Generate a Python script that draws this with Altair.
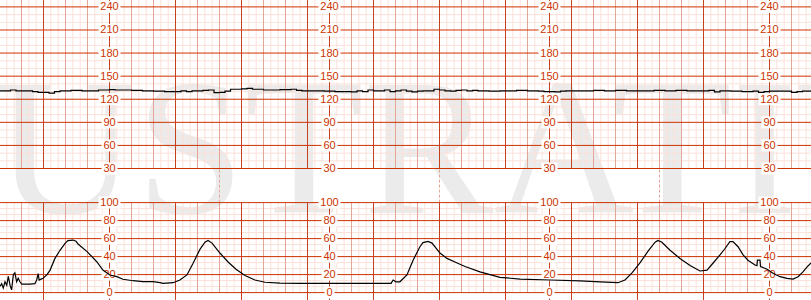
import altair as alt
import pandas as pd
import numpy as np

# ---------------- data ----------------
# Fetal heart rate (bpm), sampled every 0.25 min starting at -2 min
fhr_start = -2.0
fhr_step = 0.25
fhr_bpm = [
    131, 131, 132, 131, 131, 131, 130, 129,
    129, 128, 130, 131, 131, 131.5, 131.5, 131,
    131, 131, 132, 132, 132.5, 132, 132, 132,
    131.5, 131.5, 131, 131, 130.5, 130.5, 130, 130,
    130, 131, 130, 131, 131, 131.5, 132, 128.5,
    129, 130.5, 133, 133, 133.5, 134, 133, 133,
    132, 132, 132, 132.5, 132.5, 133, 131.5, 131,
    131, 131, 131, 130.5, 130.5, 130, 130, 130,
    129.5, 131, 130, 132, 131, 131, 132, 130,
    131, 132, 130.5, 129.5, 130.5, 131, 131, 133,
    132, 131, 130.5, 131.5, 132, 131, 131.5, 131,
    131, 130.5, 130.5, 131, 131, 131, 131.5, 131.5,
    131, 131, 130.5, 130, 130, 129.5, 130.5, 131,
    131, 131, 131, 131, 131.5, 131.5, 131, 131,
    131.5, 131.5, 131, 131, 131, 131, 131, 131.5,
    131.5, 131, 131, 131.5, 131.5, 131, 131, 131,
    131, 131.5, 129.5, 131, 131, 130.5, 130.5, 130,
    130, 130.5, 129, 130, 130.5, 130.5, 130.5, 130.5,
    129, 130, 130.5, 130.5, 130.5,
]

# Uterine contractions (time in minutes, value)
uc_time = [
    -1.97, -1.90, -1.83, -1.75, -1.67, -1.60, -1.52, -1.45, -1.37, -1.30,
    -1.22, -1.15, -1.07, -0.99, -0.84, -0.61, -0.39, -0.31, -0.24, -0.20,
    -0.11, -0.02, 0.16, 0.30, 0.52, 0.75, 0.98, 1.11, 1.34, 1.48,
    1.57, 1.98, 2.20, 2.43, 2.70, 3.02, 3.34, 3.61, 4.07, 4.52,
    4.98, 5.30, 5.43, 5.89, 6.20, 6.52, 6.80, 7.11, 7.34, 7.48,
    7.66, 8.02, 8.39, 8.75, 9.16, 9.61, 10.07, 10.75, 11.66, 13.02,
    14.39, 15.80, 15.89, 16.02, 16.20, 16.52, 16.80, 17.11, 17.25, 17.48,
    17.66, 18.02, 18.34, 18.70, 19.16, 19.84, 20.75, 21.66, 23.02, 24.39,
    25.30, 26.11, 26.43, 26.75, 27.11, 27.48, 27.80, 27.93, 28.11, 28.48,
    28.93, 29.39, 29.84, 30.16, 30.43, 30.75, 30.98, 31.20, 31.34, 31.57,
    31.80, 32.02, 32.34, 32.43, 32.45, 32.57, 32.59, 32.89, 33.16, 33.48,
    33.80, 34.07, 34.30, 34.52, 34.75, 34.89,
]
uc_value = [
    7, 10, 5, 12, 8, 18, 8, 3, 20, 22,
    12, 16, 12, 9.5, 9.5, 9.5, 10, 14, 21, 14,
    15, 16, 20, 25, 38, 47, 54.8, 57.7, 58.4, 57,
    54, 45.5, 40, 34, 25, 19.6, 17.7, 14.8, 13.2, 12.1,
    12.1, 11, 10.3, 11, 14, 19.6, 32.6, 48, 56, 58,
    55, 44, 34, 26, 19, 14, 11.5, 10.5, 10.3, 10.3,
    10.3, 10.3, 14, 12, 12, 19.6, 36, 51, 55.5, 56.8,
    55, 44, 38, 34, 29, 23, 17, 15, 14, 13,
    12, 11, 14, 22, 33, 46, 56, 58, 56, 47,
    38, 30, 24, 25, 32.6, 41.8, 49, 56.6, 56.6, 51,
    42, 36, 30.7, 30, 36, 36, 29, 26, 21.4, 17.7,
    15.9, 15, 17.7, 23, 29.6, 33,
]

fhr_labels = [30, 60, 90, 120, 150, 180, 210, 240]
uc_labels = [0, 20, 40, 60, 80, 100]
label_times = [3, 13, 23, 33]          # minutes where scale labels are printed
page_marks = [8, 18, 28]               # dashed markers between the strips
watermark_text = "ILLUSTRATIVE"

# ---------------- layout / style ----------------
W, H = 811, 300
PX_PER_MIN = 22.0
X0_PX = 43.5                           # pixel of t = 0
T0 = -X0_PX / PX_PER_MIN
T1 = (W - X0_PX) / PX_PER_MIN

FHR30_PX, FHR_PX_PER = 168.5, 0.7695   # pixel of 30 bpm, px per bpm
FHR_DOM = [30 - (H - FHR30_PX) / FHR_PX_PER, 30 + FHR30_PX / FHR_PX_PER]
UC0_PX, UC_PX_PER = 292.6, 0.9
UC_DOM = [-(H - UC0_PX) / UC_PX_PER, UC0_PX / UC_PX_PER]
GAP_UC = (UC0_PX - FHR30_PX) / UC_PX_PER   # UC value at the 30-bpm line

MAJOR_H = "#cc3300"
DARK_V = "#c4401f"
MEDIUM_V = "#e3a596"
MINOR = "#fbe1d9"
LABEL_C = "#cc3300"

xs = alt.Scale(domain=[T0, T1], nice=False, zero=False)
fs = alt.Scale(domain=FHR_DOM, nice=False, zero=False)
us = alt.Scale(domain=UC_DOM, nice=False, zero=False)

X = alt.X("t:Q", scale=xs, axis=None)
XL = alt.XDatum(T0, scale=xs, axis=None)
XR = alt.X2Datum(T1)

# grid positions
minor_t = [k / 3 for k in range(-6, 106) if k % 3 != 0]
medium_t = [k for k in range(-2, 36) if k % 3 != 0 and k not in label_times]
dark_t = sorted(set(k for k in range(-2, 36) if k % 3 == 0) | set(label_times))

fhr_minor = [v for v in range(30, 260, 10) if v % 30 != 0]
uc_minor = [k * 20 / 3 for k in range(0, 16) if k % 3 != 0]


def vlines(ts, color, scale, lo, hi, width=1.0):
    return alt.Chart(pd.DataFrame({"t": ts})).mark_rule(
        color=color, strokeWidth=width
    ).encode(x=X, y=alt.YDatum(lo, scale=scale, axis=None), y2=alt.Y2Datum(hi))


def hlines(vs, color, scale, width=1.0):
    return alt.Chart(pd.DataFrame({"v": vs})).mark_rule(
        color=color, strokeWidth=width
    ).encode(x=XL, x2=XR, y=alt.Y("v:Q", scale=scale, axis=None))


def label_layers(values, scale):
    rows = [{"t": t, "v": v, "lab": str(v)} for t in label_times for v in values]
    df = pd.DataFrame(rows)
    layers = []
    for n, w in [(1, 10), (2, 16), (3, 22)]:
        sub = df[df["lab"].str.len() == n]
        if len(sub) == 0:
            continue
        layers.append(
            alt.Chart(sub).mark_rect(
                color="white", xOffset=-w / 2, x2Offset=w / 2, yOffset=-6, y2Offset=6
            ).encode(
                x=X, x2=alt.X2("t:Q"),
                y=alt.Y("v:Q", scale=scale, axis=None), y2=alt.Y2("v:Q"),
            )
        )
    layers.append(
        alt.Chart(df).mark_text(
            color=LABEL_C, fontSize=11, font="Liberation Sans",
            align="center", baseline="middle", dy=0.5,
        ).encode(x=X, y=alt.Y("v:Q", scale=scale, axis=None), text="lab:N")
    )
    return layers


fhr_df = pd.DataFrame({
    "t": fhr_start + fhr_step * np.arange(len(fhr_bpm)),
    "v": fhr_bpm,
})
uc_df = pd.DataFrame({"t": uc_time, "v": uc_value})

watermark = alt.Chart(pd.DataFrame({"w": [watermark_text]})).mark_text(
    font="Liberation Serif", fontSize=195, color="#ebebeb",
    align="left", baseline="alphabetic",
).encode(x=alt.value(-308), y=alt.value(213), text="w:N")

fhr_group = alt.layer(
    watermark,
    vlines(minor_t, MINOR, fs, 30, FHR_DOM[1]),
    hlines(fhr_minor, MINOR, fs),
    vlines(medium_t, MEDIUM_V, fs, 30, FHR_DOM[1]),
    vlines(dark_t, DARK_V, fs, 30, FHR_DOM[1]),
    hlines(fhr_labels, MAJOR_H, fs),
    *label_layers(fhr_labels, fs),
    alt.Chart(fhr_df).mark_line(
        color="black", strokeWidth=1.2, interpolate="step-after"
    ).encode(x=X, y=alt.Y("v:Q", scale=fs, axis=None)),
)

uc_group = alt.layer(
    vlines(minor_t, MINOR, us, 0, 100),
    hlines(uc_minor, MINOR, us),
    vlines(medium_t, MEDIUM_V, us, 0, 100),
    vlines(dark_t, DARK_V, us, UC_DOM[0], 100),
    alt.Chart(pd.DataFrame({"t": page_marks})).mark_rule(
        color=MEDIUM_V, strokeWidth=1, strokeDash=[3, 2]
    ).encode(x=X, y=alt.YDatum(100, scale=us, axis=None), y2=alt.Y2Datum(GAP_UC)),
    hlines(uc_labels, MAJOR_H, us),
    *label_layers(uc_labels, us),
    alt.Chart(uc_df).mark_line(color="black", strokeWidth=1.2).encode(
        x=X, y=alt.Y("v:Q", scale=us, axis=None)
    ),
)

chart = alt.layer(fhr_group, uc_group).resolve_scale(y="independent").properties(
    width=W, height=H, padding=0, autosize="none", background="white"
).configure_view(strokeWidth=0)

chart.save("out.html", embed_options={"renderer": "svg", "actions": False})
